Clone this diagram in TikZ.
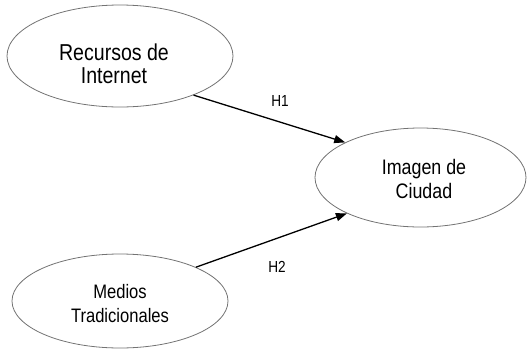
\documentclass[tikz,border=0pt]{standalone}
\usepackage{fontspec}
\setmainfont{Liberation Sans}
\usetikzlibrary{shapes.geometric,arrows.meta}
\newcommand{\nrw}[1]{\scalebox{0.85}[1]{#1}}
\begin{document}
\begin{tikzpicture}[x=1pt,y=-1pt,
  oval/.style={ellipse,draw=black!55,line width=0.8pt,inner sep=0pt},
  lbl/.style={align=center,inner sep=0pt},
  hlbl/.style={font=\fontsize{16}{18}\selectfont,inner sep=0pt},
  conn/.style={line width=1.3pt,-{Triangle[length=11pt,width=8pt]}}]
\useasboundingbox (0,0) rectangle (528,349);
\node[oval,minimum width=226pt,minimum height=102pt] (r1) at (120,56) {};
\node[oval,minimum width=211pt,minimum height=99pt] (img) at (420.5,177.5) {};
\node[oval,minimum width=216pt,minimum height=94pt] (r2) at (120,301) {};
\node[lbl,font=\fontsize{23}{23}\selectfont] (t1) at (114,64) {\nrw{Recursos de}\\\nrw{Internet}};
\node[lbl,font=\fontsize{21}{24}\selectfont] (t2) at (424,179) {\nrw{Imagen de}\\\nrw{Ciudad}};
\node[lbl,font=\fontsize{19.5}{24}\selectfont] (t3) at (120,304) {\nrw{Medios}\\\nrw{Tradicionales}};
\draw[conn] (r1.-28) -- (img.155);
\draw[conn] (r2.24) -- (img.206);
\node[hlbl] (h1) at (280,101) {\nrw{H1}};
\node[hlbl] (h2) at (277,267) {\nrw{H2}};
\end{tikzpicture}
\end{document}
